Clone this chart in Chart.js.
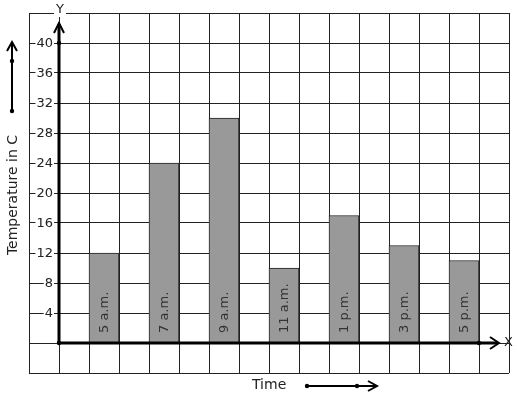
<!DOCTYPE html>
<html>
<head>
<meta charset="utf-8">
<script src="https://cdn.jsdelivr.net/npm/chart.js@4.4.1/dist/chart.umd.min.js"></script>
<style>
  body { margin: 0; background: #fff; }
  canvas { display: block; }
</style>
</head>
<body>
<canvas id="tempChart" width="517" height="399"></canvas>
<script>
const times = ["5 a.m.", "7 a.m.", "9 a.m.", "11 a.m.", "1 p.m.", "3 p.m.", "5 p.m."];
const temps = [12, 24, 30, 10, 17, 13, 11];
const yTicks = [4, 8, 12, 16, 20, 24, 28, 32, 36, 40];
const firstSlot = 2; // bars sit in every other grid cell, starting at the third
const slotCount = 16;

// 16 grid columns, bars in columns 2, 4, ... 14
const slotLabels = [];
const slotData = [];
for (let i = 0; i < slotCount; i++) {
  slotLabels.push("");
  slotData.push(null);
}
times.forEach((t, i) => {
  slotLabels[firstSlot + i * 2] = t;
  slotData[firstSlot + i * 2] = temps[i];
});

const FONT = '13px "DejaVu Sans", sans-serif';
const TITLE_FONT = '14px "DejaVu Sans", sans-serif';
const INK = "#222";

function dot(ctx, x, y) {
  ctx.beginPath();
  ctx.arc(x, y, 2.2, 0, Math.PI * 2);
  ctx.fill();
}

const decorations = {
  id: "decorations",
  afterDatasetsDraw(chart) {
    const ctx = chart.ctx;
    const xs = chart.scales.x;
    const ys = chart.scales.y;
    const area = chart.chartArea;
    const x0 = (xs.getPixelForValue(0) + xs.getPixelForValue(1)) / 2;
    const y0 = ys.getPixelForValue(0);

    ctx.save();
    ctx.fillStyle = INK;
    ctx.strokeStyle = "#000";
    ctx.font = FONT;

    // y tick labels on white backdrops
    ctx.textAlign = "right";
    ctx.textBaseline = "middle";
    yTicks.forEach((v) => {
      const y = ys.getPixelForValue(v);
      const w = ctx.measureText(String(v)).width;
      ctx.fillStyle = "#fff";
      ctx.fillRect(x0 - 6 - w - 1, y - 6, w + 2, 12);
      ctx.fillStyle = INK;
      ctx.fillText(String(v), x0 - 6, y + 1);
    });

    // bar labels, rotated inside the bars
    ctx.textAlign = "left";
    times.forEach((t, i) => {
      const x = xs.getPixelForValue(firstSlot + i * 2);
      ctx.save();
      ctx.translate(x + 1, y0 - 10);
      ctx.rotate(-Math.PI / 2);
      ctx.fillStyle = "#333";
      ctx.fillText(t, 0, 0);
      ctx.restore();
    });

    // axes
    ctx.fillStyle = "#000";
    ctx.lineWidth = 3;
    ctx.beginPath();
    ctx.moveTo(x0, y0);
    ctx.lineTo(x0, area.top + 11);
    ctx.moveTo(x0, y0);
    ctx.lineTo(area.right - 12, y0);
    ctx.stroke();

    ctx.lineWidth = 2;
    ctx.beginPath();
    ctx.moveTo(x0 - 5, area.top + 20);
    ctx.lineTo(x0, area.top + 10);
    ctx.lineTo(x0 + 5, area.top + 20);
    ctx.moveTo(area.right - 19, y0 - 6);
    ctx.lineTo(area.right - 10, y0);
    ctx.lineTo(area.right - 19, y0 + 6);
    ctx.stroke();

    dot(ctx, x0, y0);
    dot(ctx, x0, ys.getPixelForValue(40));
    dot(ctx, xs.getPixelForValue(slotCount - 1) - 15, y0);

    // axis letters
    ctx.font = FONT;
    ctx.textAlign = "center";
    ctx.textBaseline = "middle";
    ctx.fillStyle = "#fff";
    ctx.fillRect(x0 - 5, area.top - 6, 12, 10);
    ctx.fillStyle = INK;
    ctx.fillText("Y", x0 + 1, area.top - 3);
    ctx.textAlign = "left";
    ctx.fillText("X", area.right - 5, y0);

    // y title with its arrow
    ctx.font = TITLE_FONT;
    ctx.save();
    ctx.translate(13, 195);
    ctx.rotate(-Math.PI / 2);
    ctx.textAlign = "center";
    ctx.fillText("Temperature in C", 0, 0);
    ctx.restore();

    ctx.fillStyle = "#000";
    ctx.lineWidth = 2;
    ctx.beginPath();
    ctx.moveTo(12, 111);
    ctx.lineTo(12, 43);
    ctx.moveTo(7, 51);
    ctx.lineTo(12, 42);
    ctx.lineTo(17, 51);
    ctx.stroke();
    dot(ctx, 12, 61);
    dot(ctx, 12, 111);

    // x title with its arrow
    ctx.fillStyle = INK;
    ctx.textAlign = "left";
    ctx.fillText("Time", 252, 385);
    ctx.fillStyle = "#000";
    ctx.beginPath();
    ctx.moveTo(307, 386);
    ctx.lineTo(376, 386);
    ctx.moveTo(368, 381);
    ctx.lineTo(377, 386);
    ctx.lineTo(368, 391);
    ctx.stroke();
    dot(ctx, 307, 386);
    dot(ctx, 357, 386);

    ctx.restore();
  },
};

new Chart(document.getElementById("tempChart"), {
  type: "bar",
  data: {
    labels: slotLabels,
    datasets: [
      {
        label: "Temperature",
        data: slotData,
        backgroundColor: "#999",
        borderColor: "#222",
        borderWidth: 1,
        barPercentage: 1,
        categoryPercentage: 1,
      },
    ],
  },
  options: {
    responsive: false,
    animation: false,
    layout: {
      padding: { left: 29, top: 13, right: 8, bottom: 26 },
    },
    plugins: {
      legend: { display: false },
      tooltip: { enabled: false },
    },
    scales: {
      x: {
        offset: true,
        grid: { color: "#222", offset: true, drawTicks: false },
        border: { display: false },
        ticks: { display: false },
      },
      y: {
        min: -4,
        max: 44,
        grid: { color: "#222", drawTicks: false },
        border: { display: false },
        ticks: { display: false, stepSize: 4 },
      },
    },
  },
  plugins: [decorations],
});
</script>
</body>
</html>
